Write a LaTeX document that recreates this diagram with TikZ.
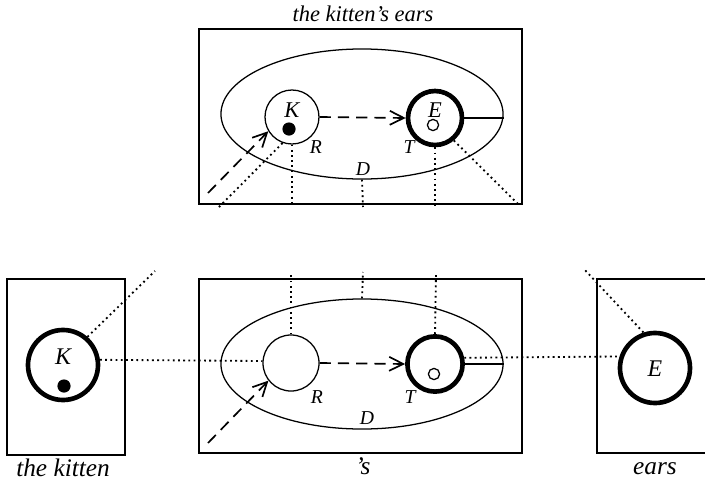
\documentclass[tikz,border=0pt]{standalone}
\usepackage{fontspec}
\setmainfont{Liberation Serif}
\usetikzlibrary{arrows.meta,shapes.geometric}

\begin{document}
\begin{tikzpicture}[x=0.025cm, y=-0.025cm,
  frame/.style={rectangle, draw, line width=0.9pt, inner sep=0pt},
  oval/.style={ellipse, draw, line width=0.9pt, inner sep=0pt, minimum width=7.05cm, minimum height=3.25cm},
  ref/.style={circle, draw, line width=0.9pt, inner sep=0pt, minimum size=1.38cm},
  bigref/.style={ref, line width=3.3pt, minimum size=1.78cm},
  thickref/.style={ref, line width=3.3pt},
  blob/.style={circle, fill, inner sep=0pt, minimum size=0.33cm},
  hole/.style={circle, draw, line width=0.9pt, inner sep=0pt, minimum size=0.28cm},
  lbl/.style={font=\fontsize{14}{16}\selectfont\itshape, inner sep=0pt},
  biglbl/.style={font=\fontsize{17}{19}\selectfont\itshape, inner sep=0pt},
  captxt/.style={font=\fontsize{16}{18}\selectfont\itshape, inner sep=0pt},
  wordtxt/.style={font=\fontsize{18}{20}\selectfont\itshape, inner sep=0pt},
  dot/.style={dash pattern=on 1.3pt off 2.4pt, line width=1.3pt},
  darr/.style={-{Straight Barb[length=3.5mm,width=3.5mm]}, dash pattern=on 8pt off 5pt, line width=1.2pt},
]
  \useasboundingbox (0,0) rectangle (705,481);

  % Top: the kitten's ears
  \node[captxt] (title) at (363,14) {the kitten's ears};
  \node[frame, minimum width=8.075cm, minimum height=4.375cm] (tbox) at (360.5,116.5) {};
  \node[oval] (tell) at (362,114) {};
  \node[ref, minimum size=1.35cm] (tK) at (292,117) {};
  \node[thickref, minimum size=1.35cm] (tE) at (435,118) {};
  \node[biglbl, font=\fontsize{16}{18}\selectfont\itshape] at (292,110) {K};
  \node[biglbl, font=\fontsize{16}{18}\selectfont\itshape] at (435,110) {E};
  \node[blob] (tKdot) at (289,129) {};
  \node[hole] (tEhole) at (433,125) {};
  \node[lbl] at (316,147) {R};
  \node[lbl] at (409,147) {T};
  \node[lbl] at (363,169) {D};
  \coordinate (tin) at (208,193);
  \coordinate (tKend) at (218,208);
  \coordinate (tKbot) at (292,205);
  \coordinate (tDbot) at (363,207);
  \coordinate (tEbot) at (435,205);
  \coordinate (tEend) at (518,204);

  \draw[line width=0.9pt] (tE.east) -- (tE.east -| tell.east);
  \draw[darr] (tK.east) -- (tE.west);
  \draw[darr] (tin) -- (tK.211);
  \draw[dot] (tK.250) -- (tKend);
  \draw[dot] (tK.south) -- (tKbot);
  \draw[dot] (tell.south) -- (tDbot);
  \draw[dot] (tE.south) -- (tEbot);
  \draw[dot] (tE.-50) -- (tEend);

  % Bottom: the kitten + 's + ears
  \node[frame, minimum width=2.95cm, minimum height=4.4cm] (kbox) at (66,367) {};
  \node[bigref, minimum size=1.75cm] (bK) at (63,365) {};
  \node[biglbl] at (63,357) {K};
  \node[blob] (bKdot) at (64,386) {};
  \node[wordtxt] at (63,468) {the kitten};

  \node[frame, minimum width=8.075cm, minimum height=4.35cm] (sbox) at (360.5,366) {};
  \node[oval] (mell) at (362,364) {};
  \node[ref, minimum size=1.4cm] (mR) at (291,363) {};
  \node[thickref, minimum size=1.38cm] (mE) at (435,364) {};
  \node[hole] (mEhole) at (434,374) {};
  \node[lbl] at (317,397) {R};
  \node[lbl] at (410,397) {T};
  \node[lbl] at (367,418) {D};
  \node[wordtxt] at (363,466) {'s};

  \node[frame, minimum width=2.875cm, minimum height=4.35cm] (ebox) at (654.5,366) {};
  \node[bigref, minimum size=1.75cm] (rE) at (655,368) {};
  \node[biglbl] at (655,369) {E};
  \node[wordtxt] at (655,469) {ears};

  \coordinate (bKend) at (155,271);
  \coordinate (mRtop) at (291,272);
  \coordinate (mDtop) at (363,272);
  \coordinate (mEtop) at (436,272);
  \coordinate (rEend) at (583,268);
  \coordinate (min) at (208,443);

  \draw[line width=0.9pt] (mE.east) -- (mE.east -| mell.east);
  \draw[darr] (mR.east) -- (mE.west);
  \draw[darr] (min) -- (mR.218);
  \draw[dot] (bK.8) -- (mR.176);
  \draw[dot] (mE.12) -- (rE.162);
  \draw[dot] (bK.49) -- (bKend);
  \draw[dot] (mR.north) -- (mRtop);
  \draw[dot] (mell.north) -- (mDtop);
  \draw[dot] (mE.north) -- (mEtop);
  \draw[dot] (rE.108) -- (rEend);
\end{tikzpicture}
\end{document}
